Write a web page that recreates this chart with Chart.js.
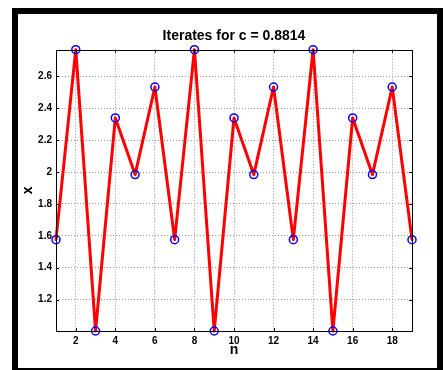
<!DOCTYPE html>
<html>
<head>
<meta charset="utf-8">
<script src="https://cdn.jsdelivr.net/npm/chart.js@4.4.0/dist/chart.umd.min.js"></script>
<style>
  html, body { margin: 0; padding: 0; background: #fff; }
</style>
</head>
<body>
<canvas id="chart" width="443" height="370"></canvas>
<script>
// iterates x_n
const nValues = [1, 2, 3, 4, 5, 6, 7, 8, 9, 10, 11, 12, 13, 14, 15, 16, 17, 18, 19];
const xValues = [1.576, 2.767, 1.003, 2.339, 1.984, 2.533,
                 1.576, 2.767, 1.003, 2.339, 1.984, 2.533,
                 1.576, 2.767, 1.003, 2.339, 1.984, 2.533,
                 1.576];
const nTicks = [2, 4, 6, 8, 10, 12, 14, 16, 18];
const xTicks = [1.2, 1.4, 1.6, 1.8, 2.0, 2.2, 2.4, 2.6];
const xTickLabels = ['1.2', '1.4', '1.6', '1.8', '2', '2.2', '2.4', '2.6'];

const FONT = '"Liberation Sans", Arial, Helvetica, sans-serif';

// black outer frame, axes box and inward tick marks
const framePlugin = {
    id: 'frame',
    beforeDraw(chart) {
        const c = chart.ctx;
        c.save();
        c.fillStyle = '#fff';
        c.fillRect(0, 0, chart.width, chart.height);
        c.fillStyle = '#000';
        c.fillRect(12, 8, 6, 362);
        c.fillRect(12, 8, 431, 6);
        c.fillRect(437, 8, 6, 362);
        c.fillRect(12, 368, 431, 2);
        c.restore();
    },
    afterDatasetsDraw(chart) {
        const c = chart.ctx;
        const a = chart.chartArea;
        const sx = chart.scales.x, sy = chart.scales.y;
        c.save();
        c.strokeStyle = '#000';
        c.lineWidth = 1;
        c.beginPath();
        nTicks.forEach(v => {
            const px = Math.round(sx.getPixelForValue(v)) + 0.5;
            c.moveTo(px, a.bottom); c.lineTo(px, a.bottom - 3);
            c.moveTo(px, a.top); c.lineTo(px, a.top + 3);
        });
        xTicks.forEach(v => {
            const py = Math.round(sy.getPixelForValue(v)) + 0.5;
            c.moveTo(a.left, py); c.lineTo(a.left + 3, py);
            c.moveTo(a.right, py); c.lineTo(a.right - 3, py);
        });
        c.stroke();
        c.strokeRect(Math.round(a.left) + 0.5, Math.round(a.top) + 0.5,
                     Math.round(a.right - a.left), Math.round(a.bottom - a.top));
        c.restore();
    }
};

new Chart(document.getElementById('chart'), {
    type: 'line',
    data: {
        datasets: [{
            data: nValues.map((n, i) => ({ x: n, y: xValues[i] })),
            borderColor: '#ff0000',
            borderWidth: 3,
            borderJoinStyle: 'round',
            borderCapStyle: 'round',
            pointRadius: 4,
            pointBorderWidth: 1.5,
            pointBorderColor: '#0000ff',
            pointBackgroundColor: 'rgba(0,0,0,0)',
            tension: 0,
            clip: false
        }]
    },
    options: {
        responsive: false,
        devicePixelRatio: 1,
        animation: false,
        events: [],
        layout: { padding: { left: 0, right: 31, top: 0, bottom: 0 } },
        plugins: {
            legend: { display: false },
            tooltip: { enabled: false },
            title: {
                display: true,
                text: 'Iterates for c = 0.8814',
                fullSize: false,
                color: '#000',
                font: { family: FONT, size: 14, weight: 'bold', lineHeight: 1.2 },
                padding: { top: 27.6, bottom: 5.3 }
            }
        },
        scales: {
            x: {
                type: 'linear',
                min: 1,
                max: 19,
                afterFit: s => { s.height = 39; },
                afterBuildTicks: s => { s.ticks = nTicks.map(v => ({ value: v })); },
                grid: { color: '#999', drawTicks: false, lineWidth: 1 },
                border: { display: false, dash: [1, 2] },
                ticks: {
                    color: '#000',
                    padding: 4,
                    maxRotation: 0,
                    font: { family: FONT, size: 10, weight: 'bold' }
                },
                title: {
                    display: true,
                    text: 'n',
                    color: '#000',
                    font: { family: FONT, size: 14, weight: 'bold', lineHeight: 1.2 },
                    padding: { top: 0, bottom: 11 }
                }
            },
            y: {
                type: 'linear',
                min: 1.003,
                max: 2.767,
                afterFit: s => { s.width = 56; },
                afterBuildTicks: s => { s.ticks = xTicks.map(v => ({ value: v })); },
                grid: { color: '#999', drawTicks: false, lineWidth: 1 },
                border: { display: false, dash: [1, 2] },
                ticks: {
                    color: '#000',
                    padding: 4,
                    font: { family: FONT, size: 10, weight: 'bold' },
                    callback: (v, i) => xTickLabels[i]
                },
                title: {
                    display: true,
                    text: 'x',
                    color: '#000',
                    font: { family: FONT, size: 14, weight: 'bold', lineHeight: 1.2 },
                    padding: { top: 20, bottom: 0 }
                }
            }
        }
    },
    plugins: [framePlugin]
});
</script>
</body>
</html>
